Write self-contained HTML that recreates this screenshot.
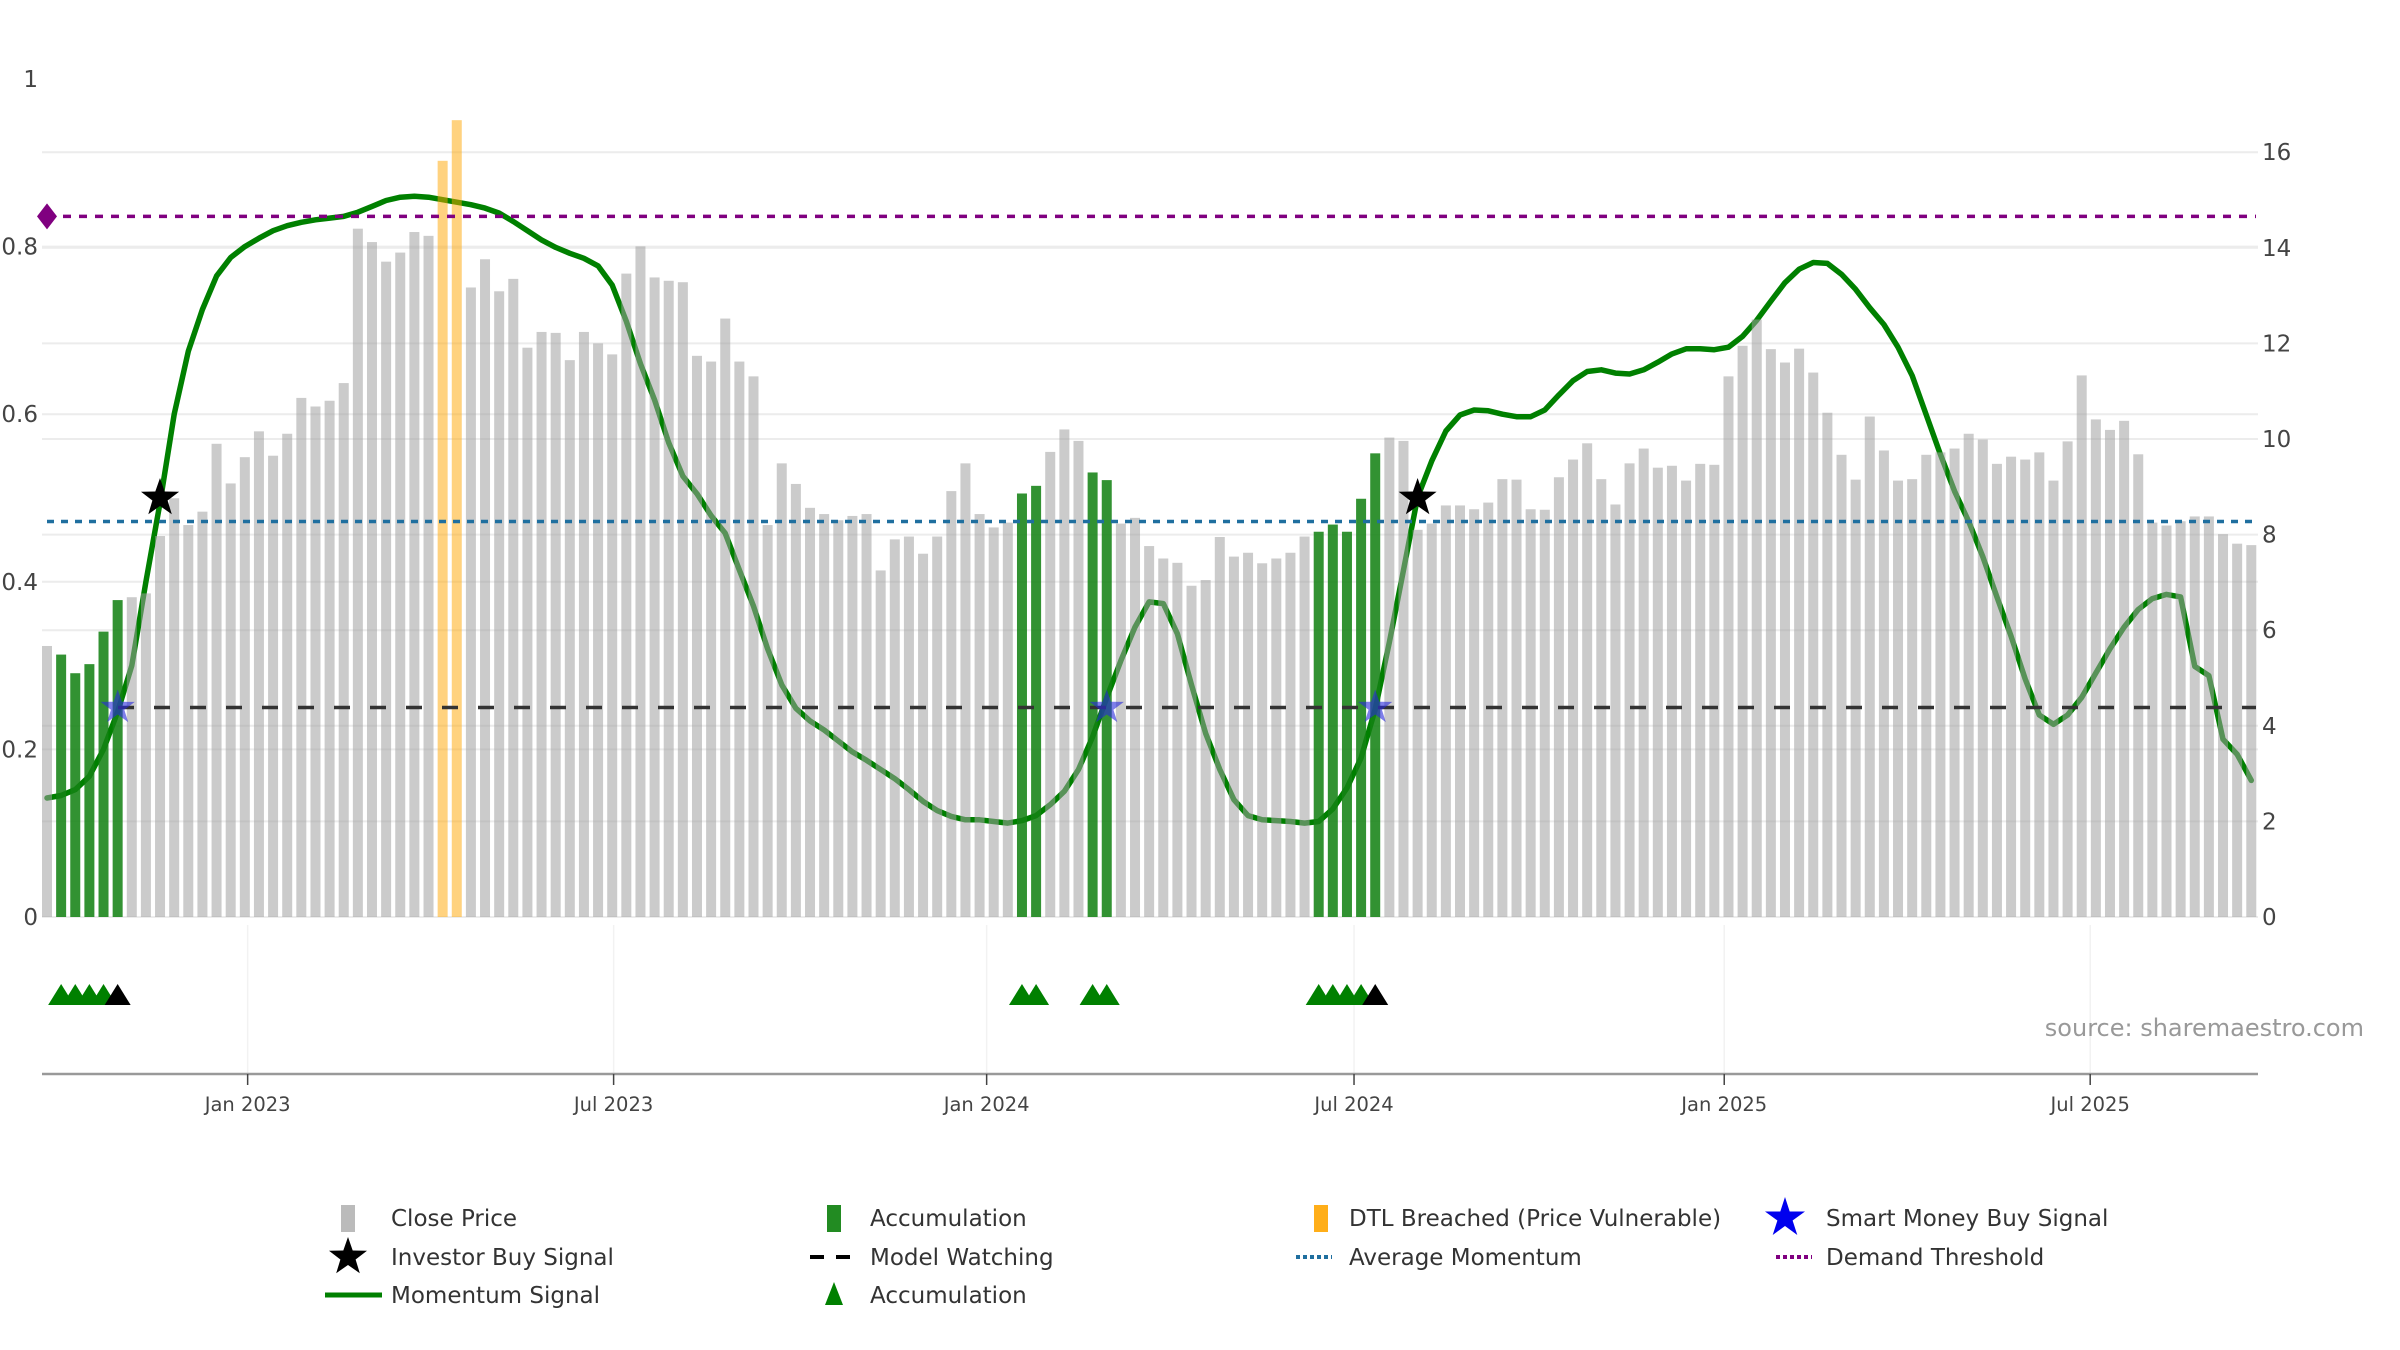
<!DOCTYPE html>
<html><head><meta charset="utf-8"><title>Momentum chart</title>
<style>
html,body{margin:0;padding:0;background:#fff;}
svg{display:block;font-family:"DejaVu Sans","Liberation Sans",sans-serif;}
</style></head>
<body>
<svg id="chart" width="2400" height="1350" viewBox="0 0 2400 1350" xmlns="http://www.w3.org/2000/svg">
  <g id="grid"></g>
  <g id="momentum"></g>
  <g id="bars"></g>
  <g id="hlines"></g>
  <g id="markers"></g>
  <g id="axes"></g>
  <text x="2364" y="1036" text-anchor="end" font-size="24" fill="#999">source: sharemaestro.com</text>
  <g id="legend"></g>
</svg>
<script>
// ---- data ----
const prices = [5.67,5.49,5.10,5.29,5.97,6.63,6.69,6.77,7.97,8.76,8.20,8.48,9.90,9.07,9.62,10.16,9.65,10.11,10.86,10.68,10.80,11.17,14.40,14.12,13.71,13.90,14.33,14.25,15.82,16.67,13.17,13.76,13.09,13.35,11.91,12.24,12.22,11.65,12.24,12.00,11.77,13.46,14.03,13.38,13.31,13.28,11.74,11.62,12.52,11.62,11.31,8.20,9.49,9.06,
8.56,8.43,8.30,8.39,8.43,7.25,7.90,7.96,7.60,7.96,8.91,9.49,8.43,8.15,8.25,8.86,9.02,9.73,10.20,9.96,9.30,9.14,8.23,8.35,7.76,7.50,7.41,6.93,7.05,7.95,7.54,7.62,7.40,7.50,7.62,7.96,8.06,8.21,8.06,8.75,9.70,10.03,9.96,8.1,8.23,8.61,8.61,8.53,8.67,9.16,9.15,8.53,8.52,9.20,9.57,9.91,
9.16,8.63,9.49,9.80,9.40,9.44,9.13,9.48,9.46,11.31,11.95,12.50,11.88,11.60,11.89,11.39,10.55,9.67,9.15,10.47,9.76,9.13,9.16,9.67,9.72,9.80,10.11,9.99,9.48,9.63,9.57,9.72,9.13,9.95,11.33,10.41,10.19,10.38,9.68,8.25,8.19,8.28,8.38,8.38,8.01,7.81,7.78];
const momentum = [0.142,0.145,0.152,0.168,0.2,0.245,0.30,0.40,0.494,0.60,0.675,0.725,0.765,0.787,0.80,0.81,0.819,0.825,0.829,0.832,0.834,0.836,0.841,0.848,0.855,0.859,0.86,0.859,0.856,0.853,0.85,0.846,0.84,0.83,0.819,0.808,0.799,0.792,0.786,0.777,0.754,0.711,0.66,0.617,0.566,0.526,0.505,0.479,0.458,0.414,0.371,0.32,0.277,0.249,
0.234,0.223,0.21,0.197,0.187,0.176,0.165,0.152,0.138,0.127,0.12,0.116,0.116,0.114,0.112,0.115,0.121,0.134,0.15,0.176,0.215,0.262,0.306,0.346,0.376,0.374,0.338,0.277,0.219,0.176,0.14,0.121,0.116,0.115,0.114,0.112,0.114,0.129,0.154,0.19,0.248,0.328,0.414,0.501,0.544,0.58,0.599,0.605,0.604,0.60,0.597,0.597,0.605,0.623,0.64,0.651,
0.653,0.649,0.648,0.653,0.662,0.672,0.678,0.678,0.677,0.68,0.693,0.712,0.735,0.757,0.773,0.781,0.78,0.767,0.749,0.727,0.707,0.68,0.646,0.599,0.552,0.508,0.472,0.43,0.382,0.335,0.284,0.241,0.23,0.241,0.262,0.291,0.32,0.346,0.367,0.38,0.385,0.382,0.299,0.288,0.212,0.194,0.163];
const accumulationWeeks = [2,3,4,5,6,70,71,75,76,91,92,93,94,95];
const dtlWeeks = [29,30];
const greenTriangleWeeks = [2,3,4,5,70,71,75,76,91,92,93,94];
const blackTriangleWeeks = [6,95];
const smartMoneyWeeks = [6,76,95];
const investorBuyWeeks = [9,98];
const demandThreshold = 0.836;
const averageMomentum = 0.472;
const modelWatching = 0.25;
const leftTicks = [0,0.2,0.4,0.6,0.8,1];
const leftTickLabels = ["0","0.2","0.4","0.6","0.8","1"];
const rightTicks = [0,2,4,6,8,10,12,14,16];
const dateTickWeeks = [15.2,41.1,67.5,93.5,119.7,145.6];
const dateTickLabels = ["Jan 2023","Jul 2023","Jan 2024","Jul 2024","Jan 2025","Jul 2025"];

// ---- scales ----
const NS="http://www.w3.org/2000/svg";
const X0=47, STEP=14.13, BASE=917;
function xw(week){return X0+(week-1)*STEP;}
function yl(v){return BASE-v*838;}
function yr(v){return BASE-v*47.8;}
function mk(tag,attrs,parent){const e=document.createElementNS(NS,tag);for(const k in attrs)e.setAttribute(k,attrs[k]);parent.appendChild(e);return e;}
function star(cx,cy,R,r){let p=[];for(let i=0;i<10;i++){const a=-Math.PI/2+i*Math.PI/5;const rr=i%2?r:R;p.push((cx+rr*Math.cos(a)).toFixed(1)+","+(cy+rr*Math.sin(a)).toFixed(1));}return p.join(" ");}

const grid=document.getElementById('grid');
rightTicks.forEach(t=>{
  const l=mk('line',{x1:42,x2:2258,y1:yr(t),y2:yr(t),stroke:'#ececec','stroke-width':2},grid);
  
  
});
leftTicks.slice(1,5).forEach(t=>{
  const l=mk('line',{x1:42,x2:2258,y1:yl(t),y2:yl(t),stroke:'#ececec','stroke-width':2},grid);
  
  
});
dateTickWeeks.forEach(w=>{
  const l=mk('line',{x1:xw(w),x2:xw(w),y1:925,y2:1074,stroke:'#f2f2f2','stroke-width':1.5},grid);
  
  
});

// momentum line
const mg=document.getElementById('momentum');
let d=momentum.map((v,i)=>(i?'L':'M')+xw(i+1).toFixed(1)+' '+yl(v).toFixed(1)).join(' ');
const ml=mk('path',{d:d,fill:'none',stroke:'#008000','stroke-width':5.5,'stroke-linejoin':'round','stroke-linecap':'round'},mg);



// bars
const bg=document.getElementById('bars');
prices.forEach((p,i)=>{
  const w=i+1;
  let fill='rgba(160,160,160,0.55)';
  let name='close-price-bar';
  if(accumulationWeeks.includes(w)){fill='rgba(20,130,20,0.87)';name='accumulation-bar';}
  if(dtlWeeks.includes(w)){fill='rgba(255,165,0,0.5)';name='dtl-breached-bar';}
  const r=mk('rect',{x:xw(w)-5,y:yr(p),width:10,height:BASE-yr(p),fill:fill},bg);
  
  
});

// reference lines
const hg=document.getElementById('hlines');
const l1=mk('line',{x1:47,x2:2256,y1:yl(demandThreshold),y2:yl(demandThreshold),stroke:'#800080','stroke-width':3.5,'stroke-dasharray':'8 8'},hg);


const dm=mk('polygon',{points:`37,${yl(demandThreshold)} 47,${yl(demandThreshold)-13} 57,${yl(demandThreshold)} 47,${yl(demandThreshold)+13}`,fill:'#800080'},hg);


const l2=mk('line',{x1:47,x2:2256,y1:yl(averageMomentum),y2:yl(averageMomentum),stroke:'#1f6f9f','stroke-width':3.5,'stroke-dasharray':'7 7'},hg);


const l3=mk('line',{x1:118,x2:2256,y1:yl(modelWatching),y2:yl(modelWatching),stroke:'#333','stroke-width':3.5,'stroke-dasharray':'16 20'},hg);



// markers
const mkg=document.getElementById('markers');
smartMoneyWeeks.forEach(w=>{
  const s=mk('polygon',{points:star(xw(w),yl(modelWatching),18,7),fill:'rgba(40,40,220,0.6)'},mkg);
  
  
});
investorBuyWeeks.forEach(w=>{
  const s=mk('polygon',{points:star(xw(w),yl(0.5),20,8),fill:'#000'},mkg);
  
  
});
greenTriangleWeeks.forEach(w=>{
  const t=mk('polygon',{points:`${xw(w)-13},1005 ${xw(w)},984 ${xw(w)+13},1005`,fill:'#008000'},mkg);
  
  
});
blackTriangleWeeks.forEach(w=>{
  const t=mk('polygon',{points:`${xw(w)-13},1005 ${xw(w)},984 ${xw(w)+13},1005`,fill:'#000'},mkg);
  
  
});

// axes
const ax=document.getElementById('axes');
const xl=mk('line',{x1:42,x2:2258,y1:1074,y2:1074,stroke:'#999','stroke-width':2.5},ax);


dateTickWeeks.forEach((w,i)=>{
  const tk=mk('line',{x1:xw(w),x2:xw(w),y1:1074,y2:1085,stroke:'#444','stroke-width':1.5},ax);
  
  
  const t=mk('text',{x:xw(w),y:1111,'text-anchor':'middle','font-size':19.5,fill:'#444'},ax);
  t.textContent=dateTickLabels[i];
  
  
});
leftTicks.forEach((v,i)=>{
  const t=mk('text',{x:38,y:yl(v)+8,'text-anchor':'end','font-size':23,fill:'#444'},ax);
  t.textContent=leftTickLabels[i];
  
  
});
rightTicks.forEach(v=>{
  const t=mk('text',{x:2262,y:yr(v)+8,'text-anchor':'start','font-size':23,fill:'#444'},ax);
  t.textContent=String(v);
  
  
});

// legend
const lg=document.getElementById('legend');
function ltext(x,y,s){const t=mk('text',{x:x,y:y+8,'font-size':23,fill:'#333'},lg);t.textContent=s;return t;}
const rows=[1218,1257,1295];
const cols=[391,870,1349,1826];
let e;
e=mk('rect',{x:341,y:rows[0]-13,width:14,height:27,fill:'#bbb'},lg);
ltext(cols[0],rows[0],'Close Price');
e=mk('polygon',{points:star(348,rows[1],20,8),fill:'#000'},lg);
ltext(cols[0],rows[1],'Investor Buy Signal');
e=mk('line',{x1:325,x2:382,y1:rows[2],y2:rows[2],stroke:'#008000','stroke-width':5},lg);
ltext(cols[0],rows[2],'Momentum Signal');
e=mk('rect',{x:827,y:rows[0]-13,width:14,height:27,fill:'#228b22'},lg);
ltext(cols[1],rows[0],'Accumulation');
e=mk('line',{x1:810,x2:858,y1:rows[1],y2:rows[1],stroke:'#000','stroke-width':4,'stroke-dasharray':'14 12'},lg);
ltext(cols[1],rows[1],'Model Watching');
e=mk('polygon',{points:`825,${rows[2]+10} 834,${rows[2]-13} 843,${rows[2]+10}`,fill:'#008000'},lg);
ltext(cols[1],rows[2],'Accumulation');
e=mk('rect',{x:1314,y:rows[0]-13,width:14,height:27,fill:'#ffa500','opacity':0.9},lg);
ltext(cols[2],rows[0],'DTL Breached (Price Vulnerable)');
e=mk('line',{x1:1296,x2:1332,y1:rows[1],y2:rows[1],stroke:'#1f6f9f','stroke-width':4,'stroke-dasharray':'4 3'},lg);
ltext(cols[2],rows[1],'Average Momentum');
e=mk('polygon',{points:star(1785,rows[0],21,8),fill:'#0000ee'},lg);
ltext(cols[3],rows[0],'Smart Money Buy Signal');
e=mk('line',{x1:1776,x2:1812,y1:rows[1],y2:rows[1],stroke:'#800080','stroke-width':4,'stroke-dasharray':'4 3'},lg);
ltext(cols[3],rows[1],'Demand Threshold');
</script>
</body></html>
